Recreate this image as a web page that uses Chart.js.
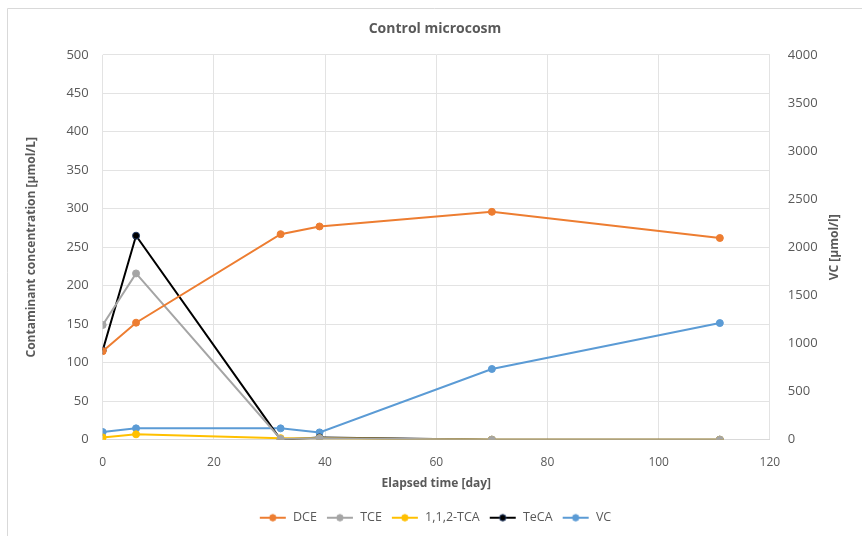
<!DOCTYPE html>
<html>
<head>
<meta charset="utf-8">
<script src="https://cdn.jsdelivr.net/npm/chart.js@4"></script>
<style>
  body { margin: 0; background: #fff; }
  #wrap { width: 862px; height: 536px; }
</style>
</head>
<body>
<div id="wrap"><canvas id="chart" width="862" height="536"></canvas></div>
<script>
// Sampling days
const days = [0, 6, 32, 39, 70, 111];

// Concentrations [µmol/L], left axis
const dce  = [115, 152, 267, 277, 296, 262];
const tce  = [149, 216, 1, 2, 0, 0];
const tca  = [3, 7, 2, 2, 0, 0];
const teca = [116, 265, 0, 3, 0, 0];

// VC [µmol/l], right axis
const vc = [80, 118, 118, 76, 735, 1212];

const seriesNames  = ['DCE', 'TCE', '1,1,2-TCA', 'TeCA', 'VC'];
const seriesColors = ['#ED7D31', '#A5A5A5', '#FFC000', '#000000', '#5B9BD5'];
const pointBorders = ['#ED7D31', '#A5A5A5', '#FFC000', '#1F3864', '#5B9BD5'];

const xTicks = [0, 20, 40, 60, 80, 100, 120];

const font = "'Open Sans', 'Liberation Sans', sans-serif";
const textColor = '#595959';
const rightTitle = 'VC [µmol/l]';

function pts(values) {
    return days.map((d, i) => ({ x: d, y: values[i] }));
}

function makeDataset(i, values, axis) {
    return {
        label: seriesNames[i],
        data: pts(values),
        borderColor: seriesColors[i],
        backgroundColor: seriesColors[i],
        pointBorderColor: pointBorders[i],
        pointBackgroundColor: seriesColors[i],
        borderWidth: 2,
        pointRadius: 3.5,
        pointBorderWidth: 1,
        tension: 0,
        yAxisID: axis
    };
}

// legend icon: short line with a dot, like the spreadsheet legend
function legendIcon(i) {
    const c = document.createElement('canvas');
    c.width = 28; c.height = 10;
    const g = c.getContext('2d');
    g.strokeStyle = seriesColors[i];
    g.lineWidth = 2;
    g.beginPath(); g.moveTo(1, 5); g.lineTo(27, 5); g.stroke();
    g.fillStyle = seriesColors[i];
    g.strokeStyle = pointBorders[i];
    g.lineWidth = 1;
    g.beginPath(); g.arc(14, 5, 3.2, 0, Math.PI * 2); g.fill(); g.stroke();
    return c;
}

// thin frame on the top and left edge, plus right axis title read bottom-up
const framePlugin = {
    id: 'frame',
    beforeDraw(chart) {
        const ctx = chart.ctx;
        ctx.save();
        ctx.strokeStyle = '#d9d9d9';
        ctx.lineWidth = 1;
        ctx.beginPath();
        ctx.moveTo(7.5, 536);
        ctx.lineTo(7.5, 8.5);
        ctx.lineTo(862, 8.5);
        ctx.stroke();
        ctx.restore();
    },
    afterDraw(chart) {
        const a = chart.scales.y2;
        const ctx = chart.ctx;
        ctx.save();
        ctx.translate(a.right - 15, (a.top + a.bottom) / 2);
        ctx.rotate(-Math.PI / 2);
        ctx.fillStyle = textColor;
        ctx.font = 'bold 12px ' + font;
        ctx.textAlign = 'center';
        ctx.textBaseline = 'middle';
        ctx.fillText(rightTitle, 0, 0);
        ctx.restore();
    }
};

const ctx = document.getElementById('chart').getContext('2d');
new Chart(ctx, {
    type: 'line',
    data: {
        datasets: [
            makeDataset(0, dce, 'y'),
            makeDataset(1, tce, 'y'),
            makeDataset(2, tca, 'y'),
            makeDataset(3, teca, 'y'),
            makeDataset(4, vc, 'y2')
        ]
    },
    options: {
        responsive: false,
        animation: false,
        layout: { padding: { left: 20, right: 12, top: 11, bottom: 2 } },
        plugins: {
            title: {
                display: true,
                text: 'Control microcosm',
                color: textColor,
                font: { family: font, size: 14, weight: 'bold' },
                padding: { top: 10, bottom: 17 }
            },
            legend: {
                position: 'bottom',
                labels: {
                    usePointStyle: true,
                    pointStyleWidth: 28,
                    boxHeight: 10,
                    color: textColor,
                    font: { family: font, size: 12.5 },
                    padding: 9,
                    generateLabels(chart) {
                        return chart.data.datasets.map((ds, i) => ({
                            text: ds.label,
                            pointStyle: legendIcon(i),
                            fontColor: textColor,
                            datasetIndex: i,
                            hidden: false,
                            lineWidth: 0
                        }));
                    }
                }
            },
            tooltip: { enabled: false }
        },
        scales: {
            x: {
                type: 'linear',
                min: 0,
                max: 120,
                afterBuildTicks(axis) { axis.ticks = xTicks.map(v => ({ value: v })); },
                grid: { color: '#e3e3e3', drawTicks: false },
                border: { color: '#d9d9d9' },
                ticks: { color: textColor, font: { family: font, size: 12 }, padding: 16 },
                title: {
                    display: true,
                    text: 'Elapsed time [day]',
                    color: textColor,
                    font: { family: font, size: 12, weight: 'bold' },
                    padding: { top: -10, bottom: 12 }
                }
            },
            y: {
                position: 'left',
                min: 0,
                max: 500,
                ticks: { stepSize: 50, color: textColor, font: { family: font, size: 13 }, padding: 14 },
                grid: { color: '#e3e3e3', drawTicks: false },
                border: { display: false },
                title: {
                    display: true,
                    text: 'Contaminant concentration [µmol/L]',
                    color: textColor,
                    font: { family: font, size: 12, weight: 'bold' },
                    padding: { bottom: 14 }
                }
            },
            y2: {
                position: 'right',
                min: 0,
                max: 4000,
                ticks: {
                    stepSize: 500,
                    color: textColor,
                    font: { family: font, size: 13 },
                    padding: 18,
                    callback: v => String(v)
                },
                grid: { display: false, drawTicks: false },
                border: { display: false },
                title: {
                    display: true,
                    text: rightTitle,
                    color: 'rgba(0,0,0,0)',
                    font: { family: font, size: 12, weight: 'bold' },
                    padding: { top: 0, bottom: 0 }
                }
            }
        }
    },
    plugins: [framePlugin]
});
</script>
</body>
</html>
